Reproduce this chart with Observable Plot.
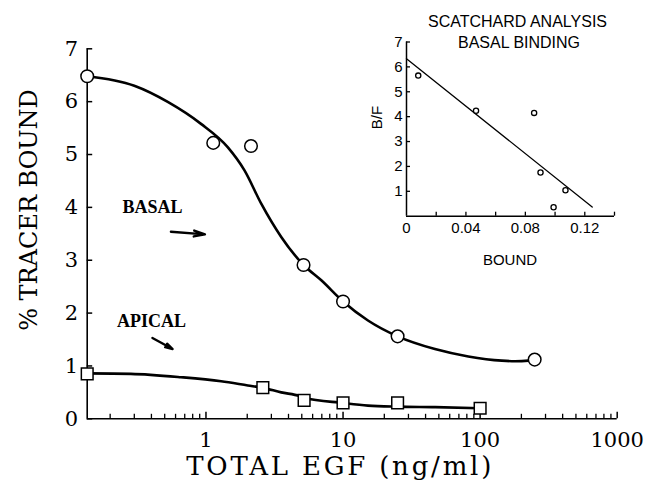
<!DOCTYPE html>
<html><head><meta charset="utf-8">
<script src="https://cdn.jsdelivr.net/npm/d3@7"></script>
<script src="https://cdn.jsdelivr.net/npm/@observablehq/plot@0.6"></script>
<style>
body{margin:0;background:#fff;}
#chart{position:relative;width:655px;height:487px;background:#fff;}
#chart svg{position:absolute;top:0;left:0;overflow:visible;}
#chart svg.inset{left:360px;}
</style></head><body><div id="chart"></div>
<script>
// ---- main chart data ----
const basalEGF   = [0.136, 1.13, 2.13, 5.15, 10, 25, 250];
const basalBound = [6.48, 5.22, 5.16, 2.91, 2.22, 1.56, 1.12];
const apicalEGF   = [0.136, 2.6, 5.2, 10, 25, 100];
const apicalBound = [0.85, 0.59, 0.35, 0.30, 0.30, 0.20];
// fitted curves
const basalCurveEGF   = [0.136, 0.30, 0.53, 0.92, 1.44, 1.91, 2.53, 3.54, 5.15, 6.94, 10, 15.2, 25, 46.8, 82, 144, 180, 225, 250];
const basalCurveBound = [6.48, 6.30, 5.99, 5.58, 5.14, 4.70, 4.07, 3.44, 2.91, 2.62, 2.22, 1.86, 1.56, 1.32, 1.18, 1.10, 1.09, 1.10, 1.12];
const apicalCurveEGF   = [0.136, 0.283, 0.656, 1.29, 2.02, 2.6, 3.54, 4.82, 5.2, 10, 15.2, 25, 47, 100];
const apicalCurveBound = [0.86, 0.85, 0.787, 0.71, 0.63, 0.585, 0.50, 0.43, 0.40, 0.30, 0.25, 0.23, 0.22, 0.20];
const xDomain = [0.136, 1000];
const xTickLabels = [1, 10, 100, 1000];
const xMinorTicks = [0.2,0.3,0.4,0.5,0.6,0.7,0.8,0.9, 2,3,4,5,6,7,8,9, 20,30,40,50,60,70,80,90, 200,300,400,500,600,700,800,900];
const yTicks = [0,1,2,3,4,5,6,7];
const seriesLabels = ["BASAL", "APICAL"];
const labelEGF = [0.407, 0.401];
const labelBound = [4.0, 1.84];
const arrowFromEGF = [0.555, 0.407];
const arrowFromBound = [3.54, 1.53];
const arrowToEGF = [0.983, 0.571];
const arrowToBound = [3.49, 1.32];
const xTitle = "TOTAL EGF (ng/ml)";
const yTitle = "% TRACER BOUND";

// ---- inset (Scatchard) data ----
const scatBound = [0.0079, 0.0468, 0.0859, 0.0902, 0.099, 0.107];
const scatBF    = [5.65, 4.24, 4.15, 1.755, 0.36, 1.04];
const fitBound = [0, 0.125];
const fitBF    = [6.33, 0.37];
const insetXTickLabels = [0, 0.04, 0.08, 0.12];
const insetXTicks = [0.02, 0.04, 0.06, 0.08, 0.10, 0.12, 0.14];
const insetYTicks = [1,2,3,4,5,6,7];
const insetTitle = ["SCATCHARD ANALYSIS", "BASAL BINDING"];

const zip = (xs, ys) => xs.map((x, i) => ({x, y: ys[i]}));
const basal = zip(basalEGF, basalBound);
const apical = zip(apicalEGF, apicalBound);
const basalCurve = zip(basalCurveEGF, basalCurveBound);
const apicalCurve = zip(apicalCurveEGF, apicalCurveBound);
const labels = seriesLabels.map((t, i) => ({t, x: labelEGF[i], y: labelBound[i]}));
const arrows = seriesLabels.map((t, i) => ({x1: arrowFromEGF[i], y1: arrowFromBound[i], x2: arrowToEGF[i], y2: arrowToBound[i]}));

const W = 655, H = 487, mL = 86.7, mR = 38.3, mT = 48.3, mB = 68.7;
const innerW = W - mL - mR, innerH = H - mT - mB;
const serif = "DejaVu Serif";
const mid = {textAnchor: "middle", lineAnchor: "middle"};

const main = Plot.plot({
  width: W, height: H,
  marginLeft: mL, marginRight: mR, marginTop: mT, marginBottom: mB,
  x: {type: "log", domain: xDomain},
  y: {domain: [0, 7]},
  style: {background: "white", color: "black", overflow: "visible"},
  marks: [
    Plot.axisX({ticks: xTickLabels, tickSize: 0, tickPadding: 13, tickFormat: d => String(d), fontSize: 21, fontFamily: serif, label: null}),
    Plot.axisY({ticks: yTicks, tickSize: 0, tickPadding: 9, tickFormat: d => String(d), fontSize: 21, fontFamily: serif, label: null}),
    Plot.ruleX(xMinorTicks, {x: d => d, insetTop: innerH - 4.5, strokeWidth: 1.3}),
    Plot.ruleX(xTickLabels, {x: d => d, insetTop: innerH - 6.5, strokeWidth: 1.5}),
    Plot.ruleY(yTicks, {y: d => d, insetRight: innerW - 5.5, strokeWidth: 1.5}),
    Plot.ruleY([0], {strokeWidth: 1.6}),
    Plot.ruleX([xDomain[0]], {strokeWidth: 1.6}),
    Plot.line(basalCurve, {x: "x", y: "y", curve: "monotone-x", strokeWidth: 2.6}),
    Plot.line(apicalCurve, {x: "x", y: "y", curve: "monotone-x", strokeWidth: 2.6}),
    Plot.dot(basal, {x: "x", y: "y", r: 6.3, fill: "white", stroke: "black", strokeWidth: 1.5}),
    Plot.dot(apical, {x: "x", y: "y", symbol: "square", r: 6.6, fill: "white", stroke: "black", strokeWidth: 1.5}),
    Plot.text(labels, {x: "x", y: "y", text: "t", fontFamily: "Liberation Serif", fontWeight: "bold", fontSize: 18}),
    Plot.arrow(arrows, {x1: "x1", y1: "y1", x2: "x2", y2: "y2", headLength: 16, headAngle: 30, strokeWidth: 2.4}),
    Plot.text([yTitle], {frameAnchor: "left", rotate: -90, dx: -57.7, dy: -23.8, fontSize: 24, fontFamily: serif, ...mid}),
    Plot.text([xTitle], {frameAnchor: "bottom", dx: -12, dy: 47.7, fontSize: 26, fontFamily: serif, ...mid})
  ]
});
// the reference sets the x title with wide letter spacing
d3.select(main).selectAll("text").filter(function() { return this.textContent === xTitle; })
  .attr("letter-spacing", "2.8px");

const iW = 295, iH = 280, imL = 46, imR = 41, imT = 41.5, imB = 64.3;
const iInnerW = iW - imL - imR, iInnerH = iH - imT - imB;
const sans = "Liberation Sans";
const inset = Plot.plot({
  width: iW, height: iH,
  marginLeft: imL, marginRight: imR, marginTop: imT, marginBottom: imB,
  x: {domain: [0, 0.14]},
  y: {domain: [0, 7]},
  style: {background: "transparent", color: "black", overflow: "visible"},
  marks: [
    Plot.axisX({ticks: insetXTickLabels, tickSize: 0, tickPadding: 6, tickFormat: d => String(d), fontSize: 15, fontFamily: sans, label: null}),
    Plot.axisY({ticks: insetYTicks, tickSize: 0, tickPadding: 4, tickFormat: d => String(d), fontSize: 15, fontFamily: sans, label: null}),
    Plot.ruleX(insetXTicks, {x: d => d, insetTop: iInnerH - 4, strokeWidth: 1.3}),
    Plot.ruleY(insetYTicks, {y: d => d, insetRight: iInnerW - 4, strokeWidth: 1.3}),
    Plot.ruleY([0], {strokeWidth: 1.5}),
    Plot.ruleX([0], {strokeWidth: 1.5}),
    Plot.line(zip(fitBound, fitBF), {x: "x", y: "y", strokeWidth: 1.3}),
    Plot.dot(zip(scatBound, scatBF), {x: "x", y: "y", r: 2.6, fill: "white", stroke: "black", strokeWidth: 1.3}),
    Plot.text([insetTitle[0]], {frameAnchor: "top", dx: 7, dy: -19.8, fontSize: 16, fontFamily: sans, ...mid}),
    Plot.text([insetTitle[1]], {frameAnchor: "top", dx: 8.5, dy: 1.2, fontSize: 16, fontFamily: sans, ...mid}),
    Plot.text(["BOUND"], {frameAnchor: "bottom", dx: -0.5, dy: 43.6, fontSize: 15, fontFamily: sans, ...mid}),
    Plot.text(["B/F"], {frameAnchor: "left", rotate: -90, dx: -29.3, dy: -11.6, fontSize: 15, fontFamily: sans, ...mid})
  ]
});
inset.classList.add("inset");
const chart = document.getElementById("chart");
chart.appendChild(main);
chart.appendChild(inset);
</script></body></html>
